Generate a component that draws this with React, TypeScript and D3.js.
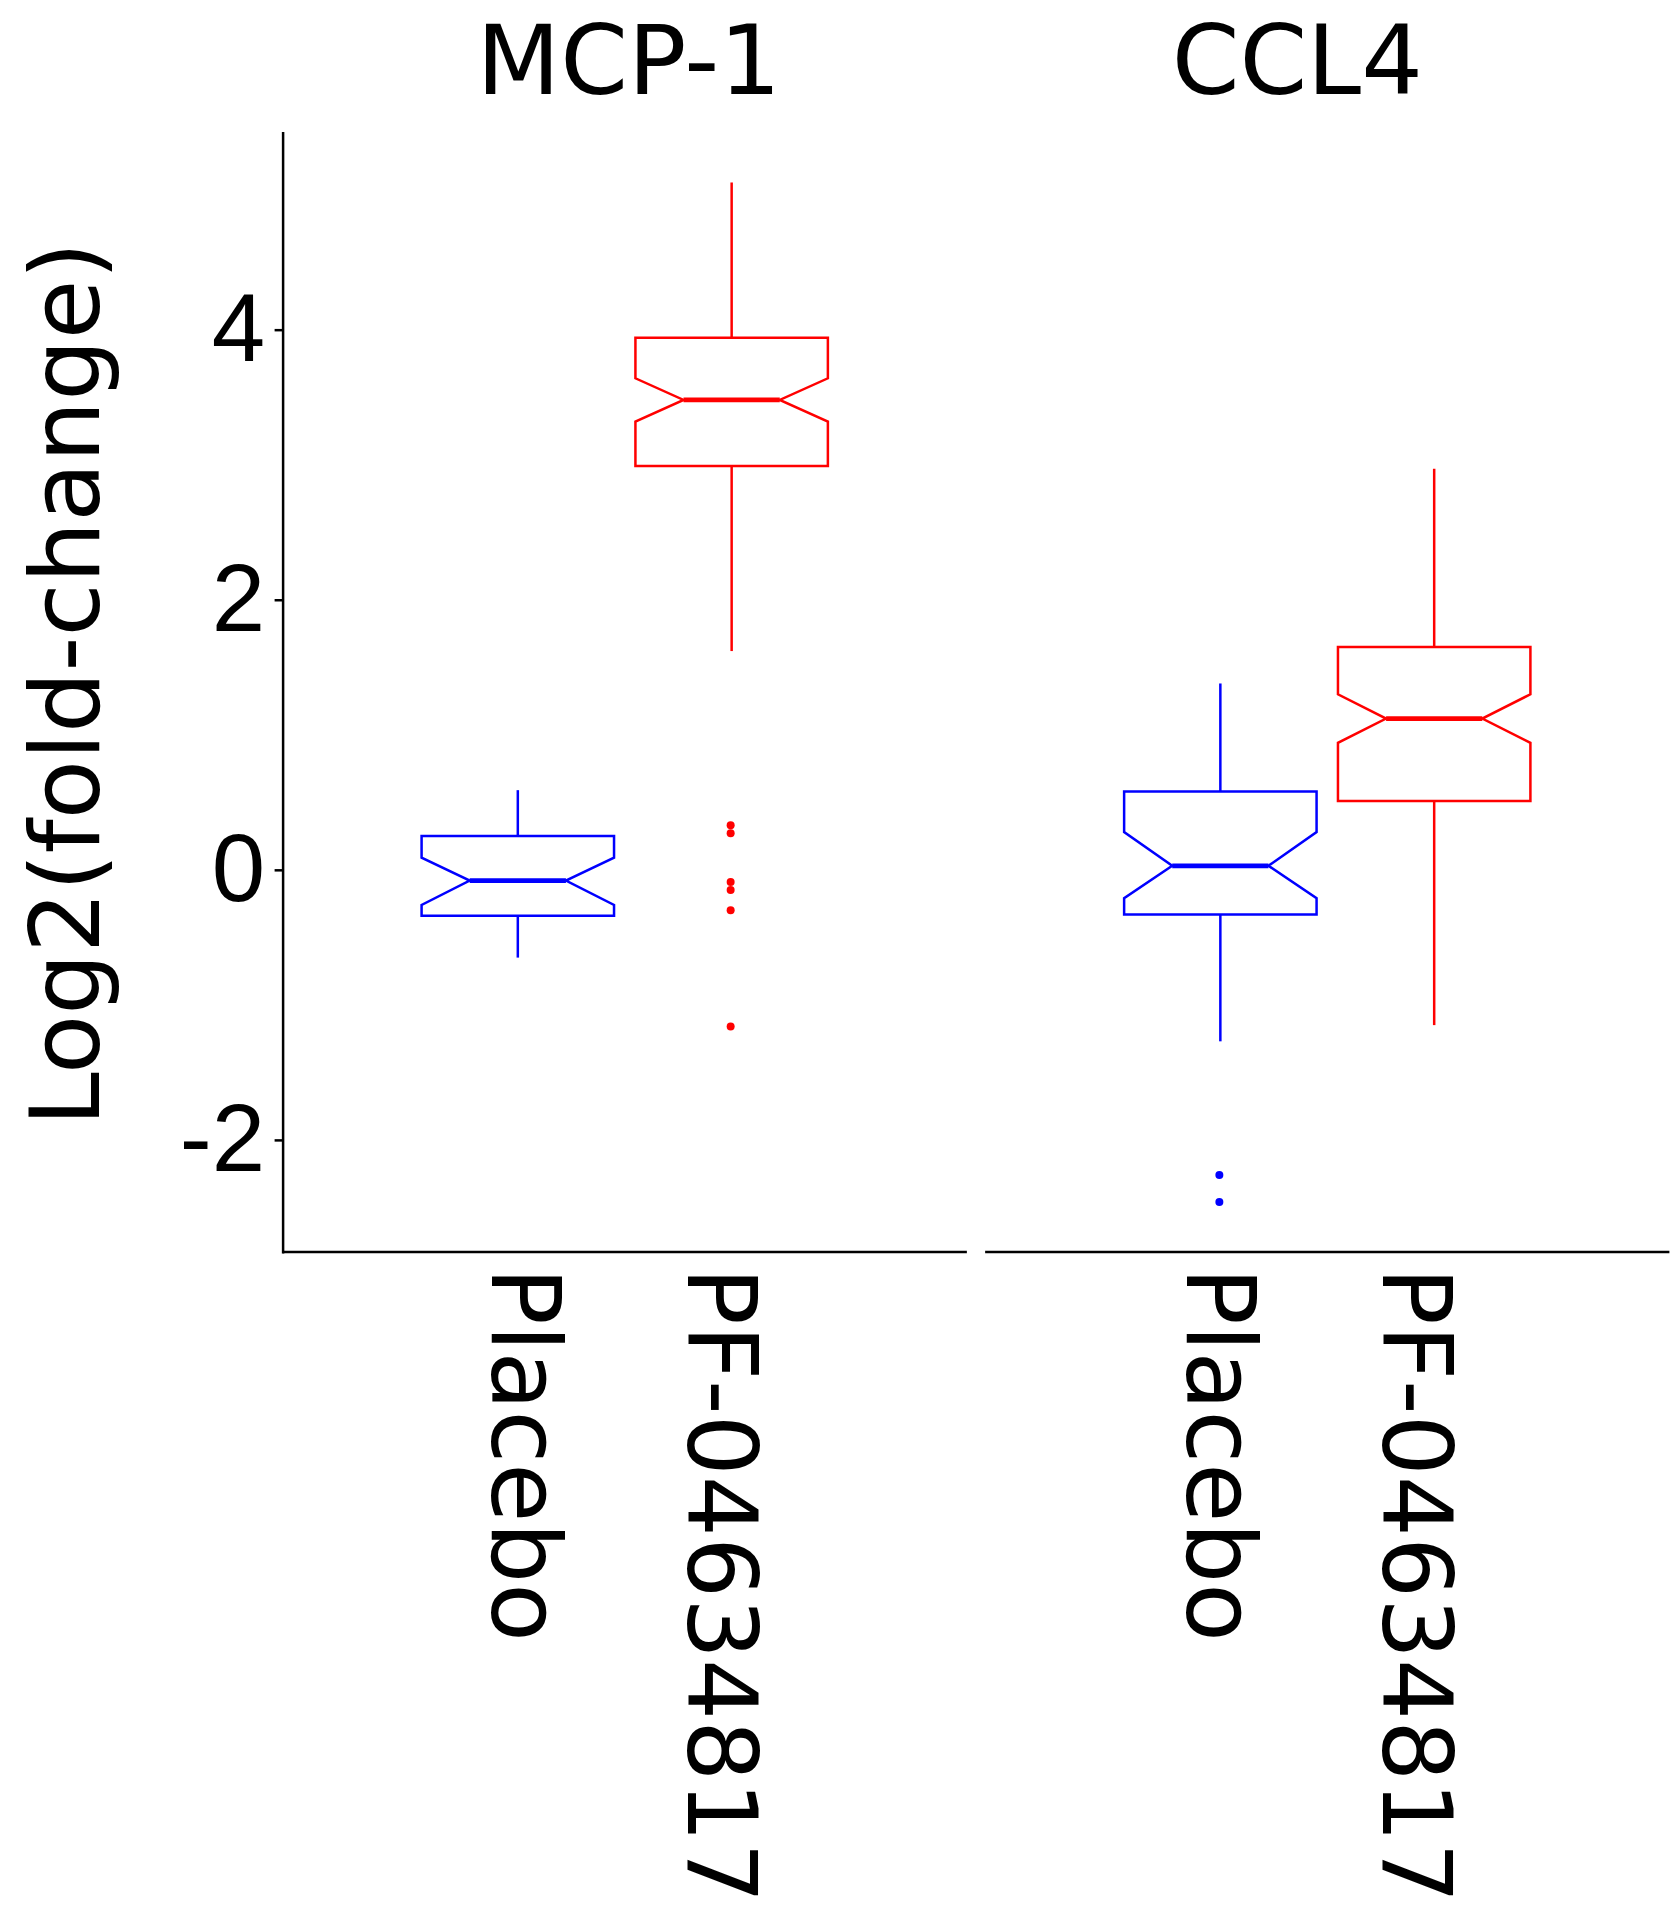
import React, { useEffect, useRef } from "react";
import * as d3 from "d3";

const facets = ["MCP-1", "CCL4"];
const groups = ["Placebo", "PF-04634817"];
const groupColors = ["#0000ff", "#ff0000"];

// one row per facet, one value per group (Placebo, PF-04634817)
const whiskerLow = [
  [-0.65, 1.62],
  [-1.27, -1.15],
];
const q1 = [
  [-0.34, 2.99],
  [-0.33, 0.51],
];
const notchLow = [
  [-0.26, 3.32],
  [-0.21, 0.94],
];
const median = [
  [-0.08, 3.48],
  [0.03, 1.12],
];
const notchHigh = [
  [0.09, 3.64],
  [0.28, 1.3],
];
const q3 = [
  [0.25, 3.94],
  [0.58, 1.65],
];
const whiskerHigh = [
  [0.59, 5.09],
  [1.38, 2.97],
];
const outliers = [
  [[], [0.33, 0.27, -0.09, -0.15, -0.3, -1.16]],
  [[-2.26, -2.46], []],
];

const yTicks = [-2, 0, 2, 4];

const App = () => {
  const chartRef = useRef<SVGSVGElement | null>(null);

  useEffect(() => {
    const width = 1672;
    const height = 1927;
    const plotTop = 131.5;
    const plotBottom = 1253;
    const bigFont = "DejaVu Sans";

    const svg = d3.select(chartRef.current);
    svg.selectAll("*").remove();
    svg.attr("width", width).attr("height", height);

    svg.append("rect").attr("width", width).attr("height", height).attr("fill", "white");

    // y scale, ggplot style 5% expansion
    const allValues = [
      ...whiskerLow.flat(),
      ...whiskerHigh.flat(),
      ...outliers.flat(2),
    ] as number[];
    const [lo, hi] = d3.extent(allValues) as [number, number];
    const pad = (hi - lo) * 0.05;
    const y = d3
      .scaleLinear()
      .domain([lo - pad, hi + pad])
      .range([plotBottom, plotTop]);

    // facet panels
    const panel = d3
      .scaleBand()
      .domain(facets)
      .range([282.6, 1669.4])
      .paddingInner(0.026);
    const bw = panel.bandwidth();

    // y axis (first panel only)
    const yAxis = svg
      .append("g")
      .attr("transform", `translate(${panel(facets[0])},0)`)
      .call(
        d3
          .axisLeft(y)
          .tickValues(yTicks)
          .tickSize(8)
          .tickSizeOuter(0)
          .tickPadding(9.5)
          .tickFormat((d) => String(d))
      );
    yAxis.select(".domain").attr("stroke", "black").attr("stroke-width", 2.5);
    yAxis.selectAll(".tick line").attr("stroke", "black").attr("stroke-width", 2.5);
    yAxis
      .selectAll(".tick text")
      .attr("font-family", "Liberation Sans")
      .attr("font-size", 96)
      .attr("fill", "black");

    // y axis title
    svg
      .append("text")
      .attr("transform", "translate(99,684) rotate(-90)")
      .attr("text-anchor", "middle")
      .attr("font-family", bigFont)
      .attr("font-size", 97)
      .text("Log2(fold-change)");

    // strip titles and tick labels sit a little off centre in the original
    const titleShift = [4, -30];
    const labelShift = [0, -7];

    facets.forEach((facet, fi) => {
      const px = panel(facet) as number;

      const x = d3
        .scalePoint()
        .domain(groups)
        .range([px, px + bw])
        .padding(1.1);
      // tick labels are spaced a bit tighter than the boxes
      const xLabel = d3
        .scalePoint()
        .domain(groups)
        .range([px, px + bw])
        .padding(1.246);

      const g = svg.append("g");

      // facet title
      g.append("text")
        .attr("x", px + bw / 2 + titleShift[fi])
        .attr("y", 94)
        .attr("text-anchor", "middle")
        .attr("font-family", bigFont)
        .attr("font-size", 97)
        .text(facet);

      // x axis line
      g.append("line")
        .attr("x1", px)
        .attr("x2", px + bw)
        .attr("y1", plotBottom - 1)
        .attr("y2", plotBottom - 1)
        .attr("stroke", "black")
        .attr("stroke-width", 2.5);

      groups.forEach((grp, gi) => {
        const color = groupColors[gi];
        const cx = x(grp) as number;
        const w = x.step() * 0.9;
        const left = cx - w / 2;
        const right = cx + w / 2;

        // whiskers
        g.append("line")
          .attr("x1", cx)
          .attr("x2", cx)
          .attr("y1", y(q3[fi][gi]))
          .attr("y2", y(whiskerHigh[fi][gi]))
          .attr("stroke", color)
          .attr("stroke-width", 2.5);
        g.append("line")
          .attr("x1", cx)
          .attr("x2", cx)
          .attr("y1", y(q1[fi][gi]))
          .attr("y2", y(whiskerLow[fi][gi]))
          .attr("stroke", color)
          .attr("stroke-width", 2.5);

        // notched box
        const pts: [number, number][] = [
          [left, y(q3[fi][gi])],
          [left, y(notchHigh[fi][gi])],
          [left + w / 4, y(median[fi][gi])],
          [left, y(notchLow[fi][gi])],
          [left, y(q1[fi][gi])],
          [right, y(q1[fi][gi])],
          [right, y(notchLow[fi][gi])],
          [right - w / 4, y(median[fi][gi])],
          [right, y(notchHigh[fi][gi])],
          [right, y(q3[fi][gi])],
        ];
        g.append("path")
          .attr("d", d3.line()(pts) + "Z")
          .attr("fill", "white")
          .attr("stroke", color)
          .attr("stroke-width", 2.5);

        // median
        g.append("line")
          .attr("x1", left + w / 4)
          .attr("x2", right - w / 4)
          .attr("y1", y(median[fi][gi]))
          .attr("y2", y(median[fi][gi]))
          .attr("stroke", color)
          .attr("stroke-width", 4.8);

        // outliers
        g.selectAll(null)
          .data(outliers[fi][gi])
          .enter()
          .append("circle")
          .attr("cx", cx - 1)
          .attr("cy", (d) => y(d))
          .attr("r", 4)
          .attr("fill", color);

        // x tick label
        g.append("text")
          .attr(
            "transform",
            `translate(${(xLabel(grp) as number) + labelShift[fi]},1267) rotate(90)`
          )
          .attr("dy", "0.365em")
          .attr("font-family", bigFont)
          .attr("font-size", 96)
          .text(grp);
      });
    });
  }, []);

  return (
    <svg
      ref={chartRef}
      style={{ position: "absolute", left: 0, top: 0, display: "block" }}
    ></svg>
  );
};

export default App;
